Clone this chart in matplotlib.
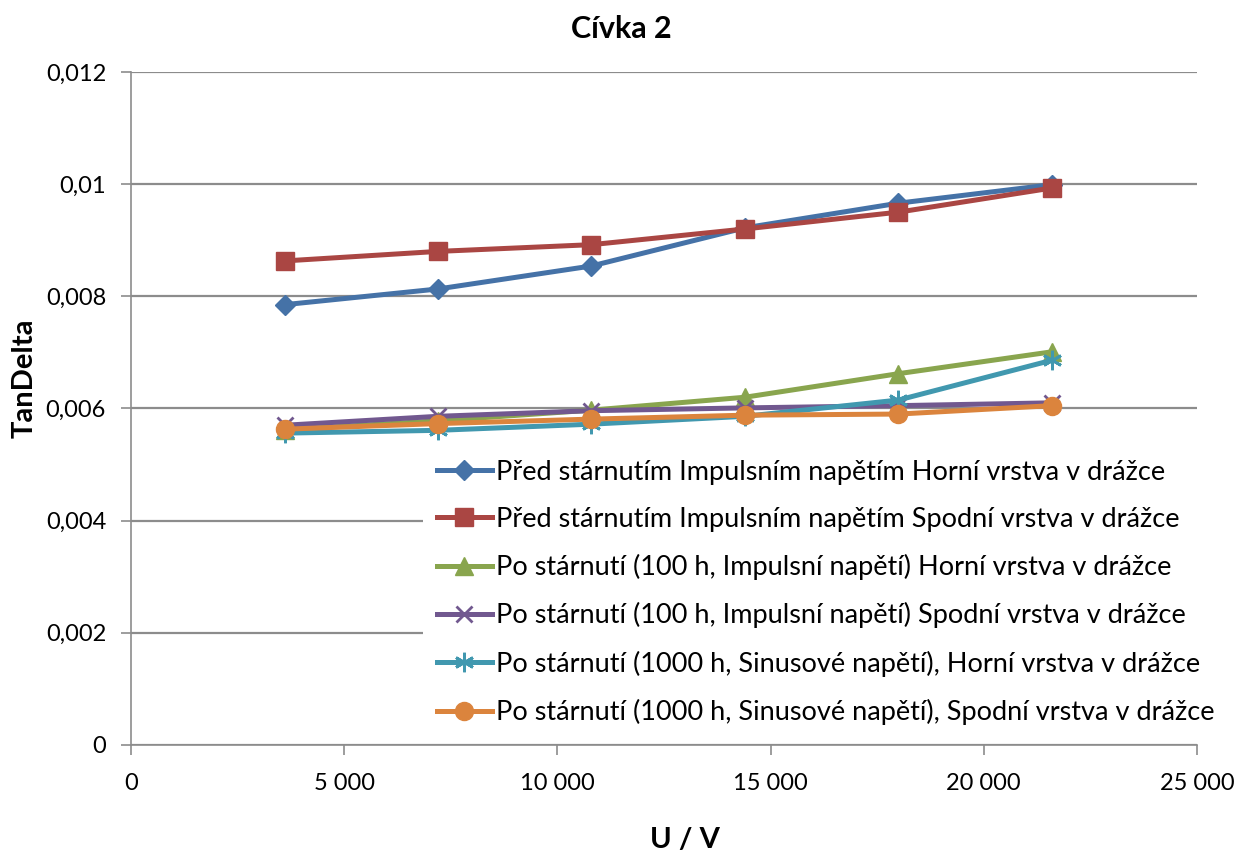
import numpy as np
import matplotlib.pyplot as plt
from matplotlib.ticker import FuncFormatter, MultipleLocator

plt.rcParams['font.family'] = ['Lato', 'DejaVu Sans']

napeti = [3600, 7200, 10800, 14400, 18000, 21600]

pred_horni = [0.00785, 0.00813, 0.00854, 0.00922, 0.00966, 0.00999]
pred_spodni = [0.00863, 0.00880, 0.00892, 0.00920, 0.00950, 0.00993]
po100_horni = [0.00562, 0.00578, 0.00597, 0.00620, 0.00662, 0.00701]
po100_spodni = [0.00570, 0.00586, 0.00596, 0.00601, 0.00605, 0.00610]
po1000_horni = [0.00556, 0.00561, 0.00572, 0.00586, 0.00615, 0.00686]
po1000_spodni = [0.00563, 0.00573, 0.00581, 0.00588, 0.00590, 0.00605]

nazvy = [
    'Před stárnutím Impulsním napětím Horní vrstva v drážce',
    'Před stárnutím Impulsním napětím Spodní vrstva v drážce',
    'Po stárnutí (100 h, Impulsní napětí) Horní vrstva v drážce',
    'Po stárnutí (100 h, Impulsní napětí) Spodní vrstva v drážce',
    'Po stárnutí (1000 h, Sinusové napětí), Horní vrstva v drážce',
    'Po stárnutí (1000 h, Sinusové napětí), Spodní vrstva v drážce',
]
serie = [pred_horni, pred_spodni, po100_horni, po100_spodni, po1000_horni, po1000_spodni]
barvy = ['#4572A7', '#AA4643', '#89A54E', '#71588F', '#4198AF', '#DB843D']
znacky = ['D', 's', '^', 'x', (6, 2, 0), 'o']
velikosti = [10, 13, 13, 12, 14, 13]
tloustky = [1, 1, 1, 2, 2, 1]

fig = plt.figure(figsize=(12.36, 8.52), dpi=100)
ax = fig.add_axes([0.106, 0.1256, 0.8624, 0.79])

for y, nazev, c, m, ms, mw in zip(serie, nazvy, barvy, znacky, velikosti, tloustky):
    ax.plot(napeti, y, color=c, lw=3.6, marker=m, ms=ms, mew=mw,
            mec=c, mfc=c, label=nazev)

ax.set_xlim(0, 25000)
ax.set_ylim(0, 0.012)
ax.xaxis.set_major_locator(MultipleLocator(5000))
ax.yaxis.set_major_locator(MultipleLocator(0.002))


def fmt_x(v, pos):
    if v == 0:
        return '0'
    return f'{int(v):,}'.replace(',', ' ')


def fmt_y(v, pos):
    if abs(v) < 1e-12:
        return '0'
    return f'{v:.3f}'.rstrip('0').replace('.', ',')


ax.xaxis.set_major_formatter(FuncFormatter(fmt_x))
ax.yaxis.set_major_formatter(FuncFormatter(fmt_y))
ax.grid(axis='y', color='#8c8c8c', lw=1.6)
ax.set_axisbelow(True)
for s in ('top', 'right'):
    ax.spines[s].set_visible(False)
for s in ('left', 'bottom'):
    ax.spines[s].set_color('#8c8c8c')
    ax.spines[s].set_linewidth(1.2)
ax.tick_params(colors='#8c8c8c', labelcolor='black', labelsize=17, length=7, width=1.2)
ax.tick_params(axis='x', pad=13)
ax.tick_params(axis='y', pad=11)

fig.text(0.503, 1 - 29 / 852, 'Cívka 2', fontsize=22, fontweight='bold',
         ha='center', va='center')
fig.text(685 / 1236, 1 - 840 / 852, 'U / V', fontsize=21, fontweight='bold',
         ha='center', va='center')
fig.text(25 / 1236, 1 - 378 / 852, 'TanDelta', fontsize=21, fontweight='bold',
         ha='center', va='center', rotation=90)

leg = ax.legend(loc='upper left', bbox_to_anchor=(0.3314, 0.4924),
                bbox_transform=fig.transFigure, fontsize=19.5,
                frameon=True, facecolor='white', edgecolor='none', framealpha=1,
                handlelength=2.05, handletextpad=0.15, labelspacing=0.82, borderpad=0.5,
                fancybox=False)
leg.set_zorder(10)

fig.savefig('out.png', dpi=100)
